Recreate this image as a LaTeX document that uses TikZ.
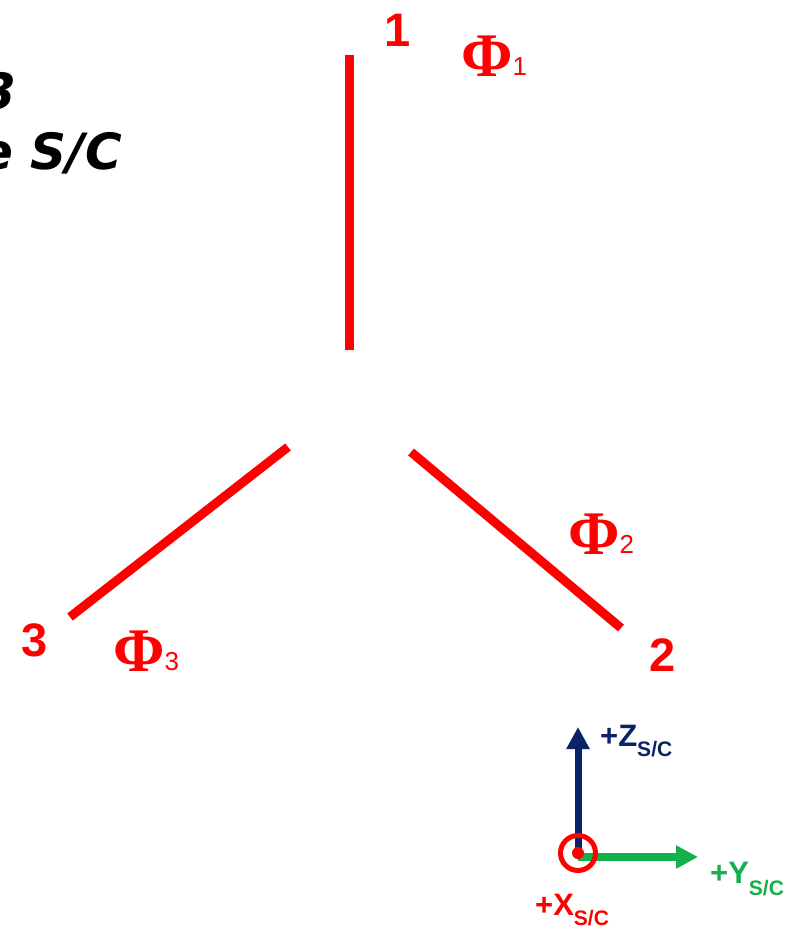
\documentclass[tikz,border=0pt]{standalone}
\usepackage{fontspec}
\setmainfont{Liberation Sans}
\newfontfamily\phifont{Liberation Serif}
\newfontfamily\handfont{DejaVu Sans}
\usetikzlibrary{arrows.meta}
\definecolor{lred}{RGB}{255,0,0}
\definecolor{navy}{RGB}{10,35,100}
\definecolor{lgreen}{RGB}{20,176,75}
\begin{document}
\begin{tikzpicture}[x=1pt,y=-1pt,
  armline/.style={draw=lred,line width=9pt},
  numlabel/.style={text=lred,font=\bfseries\fontsize{47}{47}\selectfont,inner sep=0pt,anchor=base west},
  philabel/.style={text=lred,inner sep=0pt,anchor=base west},
  axlabel/.style={inner sep=0pt,anchor=base west,font=\bfseries\fontsize{31}{31}\selectfont},
  axarrow/.style={-{Triangle[length=22pt,width=22pt]}},
  hand/.style={inner sep=0pt,anchor=base east,font=\handfont\bfseries\itshape\fontsize{50}{50}\selectfont}]
\useasboundingbox (0,0) rectangle (795,928);
% partial text at top-left
\node[hand] (t1) at (16,110) {3};
\node[hand] (t2) at (122,170) {e S/C};
% arms
\coordinate (a1s) at (349,55);
\coordinate (a1e) at (349,350);
\coordinate (a3s) at (288,447);
\coordinate (a3e) at (70,617);
\coordinate (a2s) at (411,452);
\coordinate (a2e) at (621,628);
\draw[armline] (a1s) -- (a1e);
\draw[armline] (a3s) -- (a3e);
\draw[armline] (a2s) -- (a2e);
% labels
\node[numlabel] (n1) at (384,47) {1};
\node[numlabel] (n2) at (649,671) {2};
\node[numlabel] (n3) at (21,656) {3};
\newcommand{\myphi}[1]{{\phifont\bfseries\fontsize{62}{62}\selectfont\char"03A6}\raisebox{1pt}{\fontsize{26}{26}\selectfont #1}}
\node[philabel] (p1) at (461,77) {\myphi{1}};
\node[philabel] (p2) at (568,554) {\myphi{2}};
\node[philabel] (p3) at (113,671) {\myphi{3}};
% axes
\coordinate (o) at (578,853);
\coordinate (zt) at (578,727);
\coordinate (ys) at (578,857);
\coordinate (yt) at (698,857);
\draw[navy,line width=7pt,axarrow] (o) -- (zt);
\draw[lgreen,line width=8pt,axarrow] (ys) -- (yt);
\node[circle,draw=lred,line width=5pt,minimum size=35pt,inner sep=0pt] (oc) at (o) {};
\fill[lred] (o) circle (6pt);
\node[axlabel,text=navy] (zl) at (600,746) {+Z\raisebox{-10pt}{\fontsize{21}{21}\selectfont S/C}};
\node[axlabel,text=lgreen] (yl) at (710,883) {+Y\raisebox{-12pt}{\fontsize{21}{21}\selectfont S/C}};
\node[axlabel,text=lred] (xl) at (535,915) {+X\raisebox{-10pt}{\fontsize{21}{21}\selectfont S/C}};
\end{tikzpicture}
\end{document}
